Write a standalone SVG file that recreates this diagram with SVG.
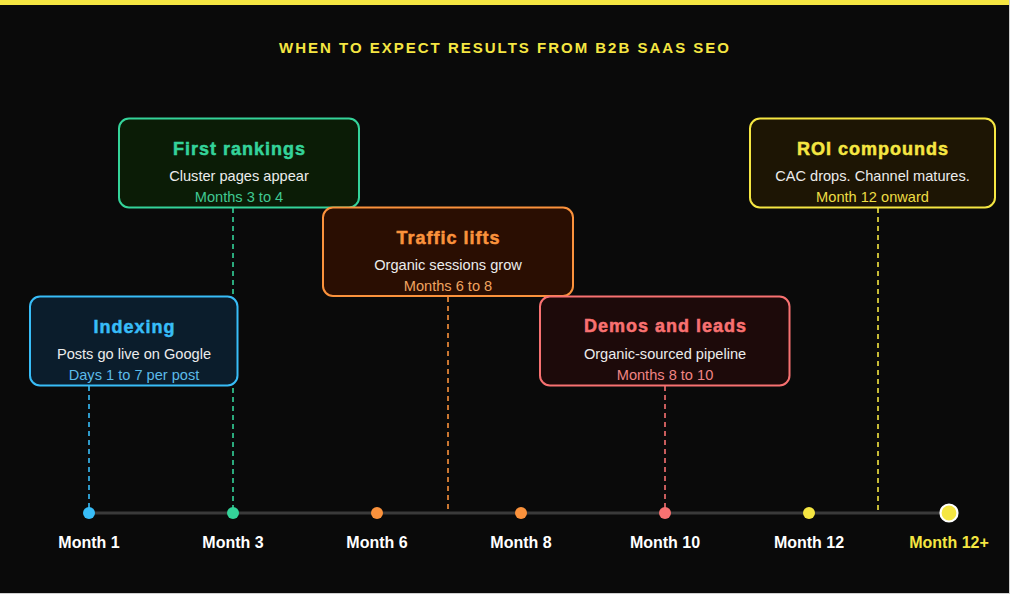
<svg xmlns="http://www.w3.org/2000/svg" width="1024" height="608" viewBox="0 0 1024 608">
<style>
.bg{fill:#0a0a0a}
.box{stroke-width:2}
.ttl{font-family:"Liberation Sans",Arial,sans-serif;font-weight:bold;font-size:18px;letter-spacing:1px;text-anchor:middle;stroke-width:0.5}
.sub{font-family:"Liberation Sans",Arial,sans-serif;font-size:14.6px;fill:#ececec;text-anchor:middle}
.rng{font-family:"Liberation Sans",Arial,sans-serif;font-size:14.6px;text-anchor:middle}
.mon{font-family:"Liberation Sans",Arial,sans-serif;font-weight:bold;font-size:16px;fill:#ffffff;text-anchor:middle}
.dash{stroke-width:1.6;stroke-dasharray:5 4;fill:none}
</style>
<rect x="0" y="0" width="1024" height="608" fill="#ffffff"/>
<rect class="bg" x="0" y="0" width="1009" height="593"/>
<line x1="1009.5" y1="0" x2="1009.5" y2="593" stroke="#d0d0d0" stroke-width="1"/>
<line x1="0" y1="593.5" x2="1010" y2="593.5" stroke="#d0d0d0" stroke-width="1"/>
<rect x="0" y="0" width="1009" height="5" fill="#f5e642"/>
<text x="505" y="53" font-family="'Liberation Sans',Arial,sans-serif" font-weight="bold" font-size="15" letter-spacing="2" fill="#f5e642" text-anchor="middle">WHEN TO EXPECT RESULTS FROM B2B SAAS SEO</text>

<g id="connectors">
<line class="dash" x1="89" y1="386" x2="89" y2="513" stroke="#38bdf8"/>
<line class="dash" x1="233" y1="208" x2="233" y2="513" stroke="#34d399"/>
<line class="dash" x1="448" y1="297" x2="448" y2="513" stroke="#fb923c"/>
<line class="dash" x1="665" y1="386" x2="665" y2="513" stroke="#f87171"/>
<line class="dash" x1="878" y1="208" x2="878" y2="513" stroke="#f5e642"/>
</g>

<g id="timeline">
<line x1="89" y1="513" x2="949" y2="513" stroke="#3a3a3a" stroke-width="3"/>
<circle cx="89" cy="513" r="6" fill="#38bdf8"/>
<circle cx="233" cy="513" r="6" fill="#34d399"/>
<circle cx="377" cy="513" r="6" fill="#fb923c"/>
<circle cx="521" cy="513" r="6" fill="#fb923c"/>
<circle cx="665" cy="513" r="6" fill="#f87171"/>
<circle cx="809" cy="513" r="6" fill="#f5e642"/>
<circle cx="949" cy="513" r="8.5" fill="#f5e642" stroke="#ffffff" stroke-width="2.2"/>
<text class="mon" x="89" y="548">Month 1</text>
<text class="mon" x="233" y="548">Month 3</text>
<text class="mon" x="377" y="548">Month 6</text>
<text class="mon" x="521" y="548">Month 8</text>
<text class="mon" x="665" y="548">Month 10</text>
<text class="mon" x="809" y="548">Month 12</text>
<text class="mon" x="949" y="548" style="fill:#f5e642">Month 12+</text>
</g>

<g id="indexing">
<rect class="box" x="30" y="296.5" width="207.5" height="89" rx="10" fill="#0b1d2c" stroke="#38bdf8"/>
<text class="ttl" x="134.5" y="333" fill="#38bdf8" stroke="#38bdf8">Indexing</text>
<text class="sub" x="134" y="359">Posts go live on Google</text>
<text class="rng" x="134" y="380" fill="#5cbbe9">Days 1 to 7 per post</text>
</g>

<g id="first-rankings">
<rect class="box" x="119" y="118.5" width="240" height="89" rx="10" fill="#0b1c06" stroke="#34d399"/>
<text class="ttl" x="239.5" y="155" fill="#34d399" stroke="#34d399">First rankings</text>
<text class="sub" x="239" y="181">Cluster pages appear</text>
<text class="rng" x="239" y="201.5" fill="#40c993">Months 3 to 4</text>
</g>

<g id="traffic-lifts">
<rect class="box" x="323" y="207.5" width="250" height="88.5" rx="10" fill="#2a0e02" stroke="#fb923c"/>
<text class="ttl" x="448.5" y="243.5" fill="#fb923c" stroke="#fb923c">Traffic lifts</text>
<text class="sub" x="448" y="270">Organic sessions grow</text>
<text class="rng" x="448" y="290.5" fill="#f0a460">Months 6 to 8</text>
</g>

<g id="demos-and-leads">
<rect class="box" x="540" y="296.5" width="249.5" height="89" rx="10" fill="#1d0a0a" stroke="#f87171"/>
<text class="ttl" x="665.5" y="332" fill="#f87171" stroke="#f87171">Demos and leads</text>
<text class="sub" x="665" y="359">Organic-sourced pipeline</text>
<text class="rng" x="665" y="380" fill="#f08585">Months 8 to 10</text>
</g>

<g id="roi-compounds">
<rect class="box" x="750" y="118.5" width="245" height="89" rx="10" fill="#1d1504" stroke="#f5e642"/>
<text class="ttl" x="873" y="155" fill="#f5e642" stroke="#f5e642">ROI compounds</text>
<text class="sub" x="872.5" y="181">CAC drops. Channel matures.</text>
<text class="rng" x="872.5" y="201.5" fill="#eedd44">Month 12 onward</text>
</g>
</svg>
